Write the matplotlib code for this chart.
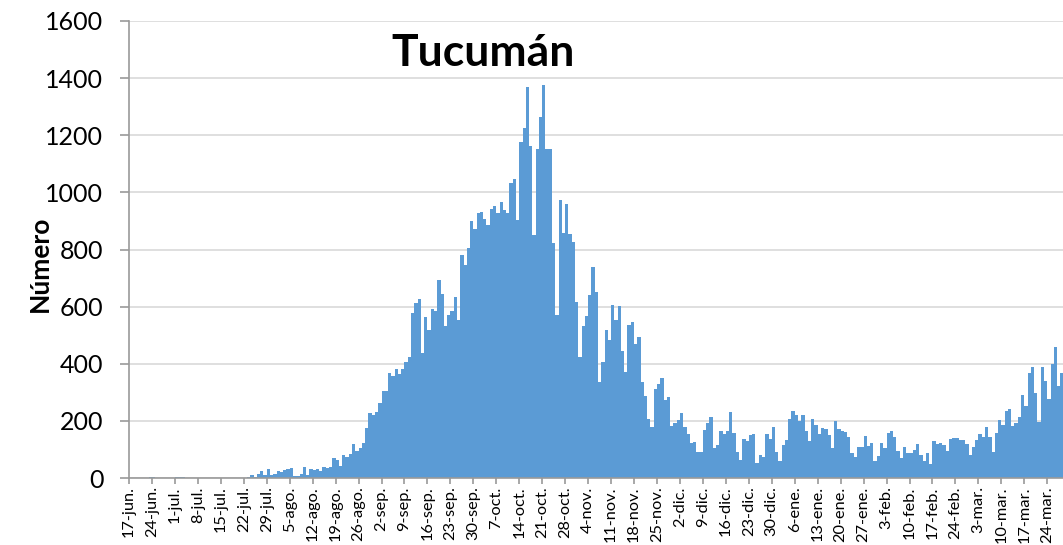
import matplotlib
matplotlib.use("Agg")
import matplotlib.pyplot as plt
import numpy as np

plt.rcParams['font.family'] = ['Lato', 'DejaVu Sans']

# daily counts, 17-jun .. 28-mar
jun = [0, 0, 0, 0, 0, 0, 4, 5, 1, 0, 0, 0, 0, 1]
jul = [5, 2, 3, 1, 0, 1, 0, 1, 1, 0, 1, 0, 0, 1, 1, 0, 1, 1, 0, 0, 1, 1,
       3, 9, 2, 14, 23, 12, 33, 12, 13]
ago = [23, 22, 27, 31, 36, 7, 6, 15, 40, 10, 33, 27, 33, 23, 40, 34, 38, 70,
       63, 41, 82, 73, 84, 119, 94, 105, 122, 176, 226, 222, 230]
sep = [262, 304, 306, 366, 357, 383, 365, 383, 406, 425, 579, 612, 625, 439,
       562, 517, 593, 585, 693, 644, 531, 569, 585, 632, 552, 779, 746, 807,
       901, 872]
oct_ = [928, 933, 907, 887, 942, 951, 928, 968, 940, 929, 1032, 1046, 905,
        1178, 1227, 1368, 1163, 850, 1153, 1264, 1377, 1152, 1151, 823, 572,
        975, 858, 961, 853, 825, 616]
nov = [423, 533, 567, 640, 737, 651, 336, 405, 519, 482, 607, 554, 601, 443,
       370, 537, 546, 468, 494, 335, 287, 207, 180, 310, 328, 351, 274, 285,
       181, 193]
dic = [204, 227, 180, 154, 124, 125, 91, 91, 168, 194, 212, 105, 116, 163,
       154, 165, 232, 159, 92, 64, 135, 131, 152, 153, 51, 82, 75, 153, 136,
       178, 90]
ene = [61, 117, 133, 207, 235, 221, 201, 221, 165, 131, 207, 187, 153, 175,
       171, 152, 106, 200, 173, 166, 161, 144, 88, 75, 109, 110, 146, 111,
       124, 60, 77]
feb = [124, 105, 158, 166, 144, 94, 71, 108, 89, 89, 98, 118, 80, 61, 86, 49,
       129, 120, 122, 115, 95, 136, 139, 140, 134, 132, 118, 82]
mar = [110, 134, 154, 142, 178, 142, 91, 158, 202, 187, 234, 241, 182, 192,
       215, 292, 253, 369, 388, 299, 195, 388, 339, 278, 399, 459, 322, 368]

tick_labels = ['17-jun.', '24-jun.', '1-jul.', '8-jul.', '15-jul.', '22-jul.',
               '29-jul.', '5-ago.', '12-ago.', '19-ago.', '26-ago.', '2-sep.',
               '9-sep.', '16-sep.', '23-sep.', '30-sep.', '7-oct.', '14-oct.',
               '21-oct.', '28-oct.', '4-nov.', '11-nov.', '18-nov.', '25-nov.',
               '2-dic.', '9-dic.', '16-dic.', '23-dic.', '30-dic.', '6-ene.',
               '13-ene.', '20-ene.', '27-ene.', '3-feb.', '10-feb.', '17-feb.',
               '24-feb.', '3-mar.', '10-mar.', '17-mar.', '24-mar.']

casos = np.array(jun + jul + ago + sep + oct_ + nov + dic + ene + feb + mar)
dias = np.arange(len(casos))

fig = plt.figure(figsize=(10.63, 5.45), dpi=100)
ax = fig.add_axes([129/1063, 1-478/545, 1-129/1063, (478-21)/545])

ax.bar(dias, casos, width=1.0, align='edge', color='#5B9BD5', linewidth=0, zorder=2)

ax.set_xlim(0, 284.8)
ax.set_ylim(0, 1600)
ax.set_yticks(np.arange(0, 1601, 200))
ax.grid(axis='y', color='#d9d9d9', linewidth=1.2, zorder=0)
ax.set_axisbelow(True)

ax.set_xticks(np.arange(0, 7*len(tick_labels), 7))
ax.set_xticklabels(tick_labels, rotation=90, fontsize=11.8)

for s in ['top', 'right']:
    ax.spines[s].set_visible(False)
for s in ['left', 'bottom']:
    ax.spines[s].set_color('#9a9a9a')
    ax.spines[s].set_linewidth(1.2)

ax.tick_params(axis='y', labelsize=18, length=6.5, width=1.2, color='#9a9a9a', pad=12)
ax.tick_params(axis='x', length=4, width=1.2, color='#9a9a9a', pad=2)

fig.text(483/1063, 1-53/545, 'Tucumán', ha='center', va='center',
         fontsize=32, fontweight='bold')
fig.text(40/1063, 1-264/545, 'Número', ha='center', va='center',
         rotation=90, fontsize=19, fontweight='bold')

fig.savefig('out.png', dpi=100)
